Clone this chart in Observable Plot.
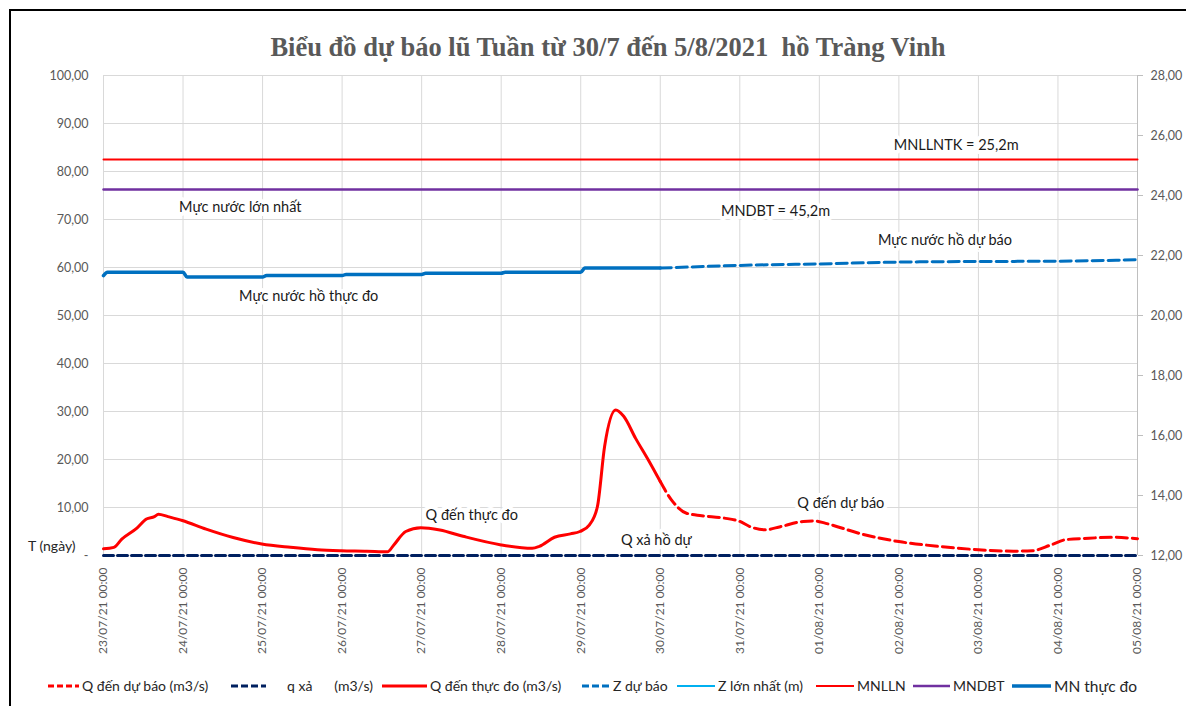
<!DOCTYPE html>
<html><head><meta charset="utf-8">
<script src="https://cdn.jsdelivr.net/npm/d3@7"></script>
<script src="https://cdn.jsdelivr.net/npm/@observablehq/plot@0.6"></script>
<style>
html,body{margin:0;padding:0;background:#fff;}
#wrap{position:relative;width:1186px;height:706px;overflow:hidden;background:#fff;font-family:Lato,"Open Sans",sans-serif;}
#border{position:absolute;left:9px;top:9px;width:1300px;height:800px;border-left:2px solid #000;border-top:2px solid #000;box-sizing:border-box;}
#chart{position:absolute;left:0;top:0;}
#title{position:absolute;left:0;width:1216px;top:32px;text-align:center;font:bold 26.5px "Liberation Serif","Times New Roman",serif;color:#595959;white-space:pre;}
#tlabel{position:absolute;left:28px;top:537px;font-size:14px;color:#262626;white-space:pre;}
.leg{position:absolute;top:677px;display:flex;align-items:center;font-size:14px;color:#262626;white-space:pre;}
.leg svg{display:block;}
</style></head>
<body>
<div id="wrap">
  <div id="border"></div>
  <div id="chart"></div>
  <div id="title"></div>
  <div id="tlabel"></div>
</div>
<script>
// ---------- DATA ----------
const titleText = "Biểu đồ dự báo lũ Tuần từ 30/7 đến 5/8/2021  hồ Tràng Vinh";
const startDay = "2021-07-23";
const xTickDays = [0,1,2,3,4,5,6,7,8,9,10,11,12,13];
const leftTicks = [0,10,20,30,40,50,60,70,80,90,100];
const rightTicks = [12,14,16,18,20,22,24,26,28];

// Q đến thực đo (m3/s) — days since 23/07 00:00
const qMeasuredDay = [0,0.13,0.23,0.42,0.54,0.64,0.69,0.81,0.99,1.29,1.63,1.99,2.35,2.69,2.99,3.31,3.57,3.65,3.80,3.99,4.23,4.52,5.0,5.39,5.48,5.67,5.87,5.99,6.11,6.21,6.30,6.44,6.54,6.69,6.85,7.0];
const qMeasured    = [1.4,1.7,3.4,5.7,7.6,8.1,8.6,8.1,7.3,5.5,3.75,2.4,1.7,1.2,1.0,0.9,0.76,2.2,5.0,5.8,5.3,4.0,2.2,1.5,1.9,3.8,4.5,5.0,6.4,10.2,22.7,30.3,29.0,24.4,19.9,15.4];

// Q đến dự báo (m3/s)
const qForecastDay = [7.0,7.14,7.33,7.52,7.80,8.0,8.13,8.32,8.51,8.80,8.94,9.08,9.55,10.0,10.5,11.0,11.44,11.68,11.91,12.1,12.39,12.67,13.0];
const qForecast    = [15.4,11.6,8.8,8.3,7.8,7.1,6.0,5.35,6.0,7.1,7.2,6.7,4.4,2.9,1.9,1.2,0.9,1.0,2.2,3.3,3.6,3.8,3.5];

// q xả (m3/s)
const qReleaseDay = [0,13];
const qRelease    = [0,0];

// MN thực đo (m) — right axis
const mnMeasuredDay = [0,0.05,1.0,1.05,2.0,2.05,3.0,3.05,4.0,4.05,5.0,5.05,6.0,6.05,7.0];
const mnMeasured    = [21.33,21.44,21.44,21.28,21.28,21.33,21.33,21.37,21.37,21.41,21.41,21.44,21.44,21.58,21.58];

// Z dự báo (m) — right axis
const zForecastDay = [7,8,9,10,11,12,13];
const zForecast    = [21.58,21.67,21.72,21.78,21.80,21.81,21.86];

// reference levels (m) — right axis
const mnllnLevel = 25.2;
const mndbtLevel = 24.2;

// annotations: text, day, left-axis value
const noteText  = ["MNLLNTK = 25,2m","MNDBT = 45,2m","Mực nước lớn nhất","Mực nước hồ dự báo","Mực nước hồ thực đo","Q đến thực đo","Q xả hồ dự","Q đến dự báo"];
const noteDay   = [10.72,8.45,1.72,10.58,2.58,4.63,6.95,9.27];
const noteValue = [85.4,71.7,72.5,65.6,54.0,8.3,3.1,10.8];

// legend
const legendNames = ["Q đến dự báo (m3/s)","q xả|(m3/s)","Q đến thực đo (m3/s)","Z dự báo","Z lớn nhất (m)","MNLLN","MNDBT","MN thực đo"];
const legendColors = ["#ff0000","#002060","#ff0000","#0070c0","#00b0f0","#ff0000","#7030a0","#0070c0"];

// ---------- LAYOUT / STYLE ----------
const legendLeft  = [48,231,382,582,677,816,913,1012];
const legendSwW   = [31,35,45,28,38,38,37,39];
const legendDash  = ["6,3","7,3",null,"7,3",null,null,null,null];
const legendSW    = [3,3,3,3,2,2,2.5,3.5];
const legendGap   = [3,21,3,3,3,3,3,3];

const DAY = 864e5;
const t0 = new Date(startDay + "T00:00:00Z").getTime();
const toDate = d => new Date(t0 + d * DAY);
const toLeft = v => (v - 12) * 100 / 16;
const fmt = v => v.toFixed(2).replace(".", ",");

const xTicks = xTickDays.map(toDate);
const zip = (ds, vs, f = v => v) => ds.map((d, i) => ({t: toDate(d), v: f(vs[i])}));
const qMeasuredData = zip(qMeasuredDay, qMeasured);
const qForecastData = zip(qForecastDay, qForecast);
const qReleaseData = zip(qReleaseDay, qRelease);
const mnMeasuredData = zip(mnMeasuredDay, mnMeasured, toLeft);
const zForecastData = zip(zForecastDay, zForecast, toLeft);
const levelData = (lv) => [{t: xTicks[0], v: toLeft(lv)}, {t: xTicks[xTicks.length-1], v: toLeft(lv)}];
const notes = noteText.map((s, i) => ({s, t: toDate(noteDay[i]), v: noteValue[i]}));

const FONT = 'Lato, "Open Sans", sans-serif';

const chart = Plot.plot({
  width: 1186,
  height: 670,
  marginTop: 75,
  marginBottom: 115,
  marginLeft: 103,
  marginRight: 49,
  x: {type: "utc", domain: [xTicks[0], xTicks[xTicks.length-1]]},
  y: {domain: [0, 100]},
  style: {fontFamily: FONT, fontSize: "12.5px", color: "#595959", background: "transparent"},
  marks: [
    Plot.gridY(leftTicks, {stroke: "#d9d9d9", strokeOpacity: 1}),
    Plot.gridX(xTicks, {stroke: "#d9d9d9", strokeOpacity: 1}),
    Plot.ruleX([xTicks[xTicks.length-1]], {stroke: "#bfbfbf", strokeWidth: 1}),
    Plot.axisY(leftTicks, {anchor: "left", tickSize: 0, tickPadding: 15, label: null,
      tickFormat: d => d === 0 ? "-" : fmt(d)}),
    Plot.axisY(rightTicks.map(toLeft), {anchor: "right", tickSize: 5, tickPadding: 8, label: null,
      stroke: "#bfbfbf", tickFormat: d => fmt(d * 16 / 100 + 12)}),
    Plot.axisX(xTicks, {anchor: "bottom", tickRotate: -90, tickSize: 0, tickPadding: 12, label: null,
      fontSize: 12, tickFormat: d3.utcFormat("%d/%m/%y %H:%M")}),
    Plot.line(levelData(mnllnLevel), {x: "t", y: "v", stroke: "#ff0000", strokeWidth: 2}),
    Plot.line(levelData(mndbtLevel), {x: "t", y: "v", stroke: "#7030a0", strokeWidth: 2.5}),
    Plot.line(zForecastData, {x: "t", y: "v", stroke: "#0070c0", strokeWidth: 3, strokeDasharray: "11,5", curve: "monotone-x"}),
    Plot.line(mnMeasuredData, {x: "t", y: "v", stroke: "#0070c0", strokeWidth: 3.5, curve: "monotone-x"}),
    Plot.line(qForecastData, {x: "t", y: "v", stroke: "#ff0000", strokeWidth: 3, strokeDasharray: "11,5", curve: "monotone-x"}),
    Plot.line(qMeasuredData, {x: "t", y: "v", stroke: "#ff0000", strokeWidth: 3, curve: "monotone-x"}),
    Plot.line(qReleaseData, {x: "t", y: "v", stroke: "#002060", strokeWidth: 3, strokeDasharray: "10,4"}),
    Plot.text(notes, {x: "t", y: "v", text: "s", fill: "#1a1a1a", fontSize: 14.5,
      stroke: "white", strokeWidth: 8, paintOrder: "stroke"})
  ]
});
document.getElementById("chart").appendChild(chart);
document.getElementById("title").textContent = titleText;
document.getElementById("tlabel").textContent = "T (ngày)";

const wrap = document.getElementById("wrap");
legendNames.forEach((name, i) => {
  const item = document.createElement("div");
  item.className = "leg";
  item.style.left = legendLeft[i] + "px";
  if (i === 7) item.style.fontSize = "15.5px";
  const w = legendSwW[i];
  const dash = legendDash[i] ? `stroke-dasharray="${legendDash[i]}"` : "";
  item.innerHTML = `<svg width="${w}" height="16" style="margin-right:${legendGap[i]}px"><line x1="0" x2="${w}" y1="8" y2="8" stroke="${legendColors[i]}" stroke-width="${legendSW[i]}" ${dash}/></svg>`;
  name.split("|").forEach((part, j) => {
    const sp = document.createElement("span");
    sp.textContent = part;
    if (j > 0) sp.style.marginLeft = "22px";
    item.appendChild(sp);
  });
  wrap.appendChild(item);
});
</script>
</body></html>
